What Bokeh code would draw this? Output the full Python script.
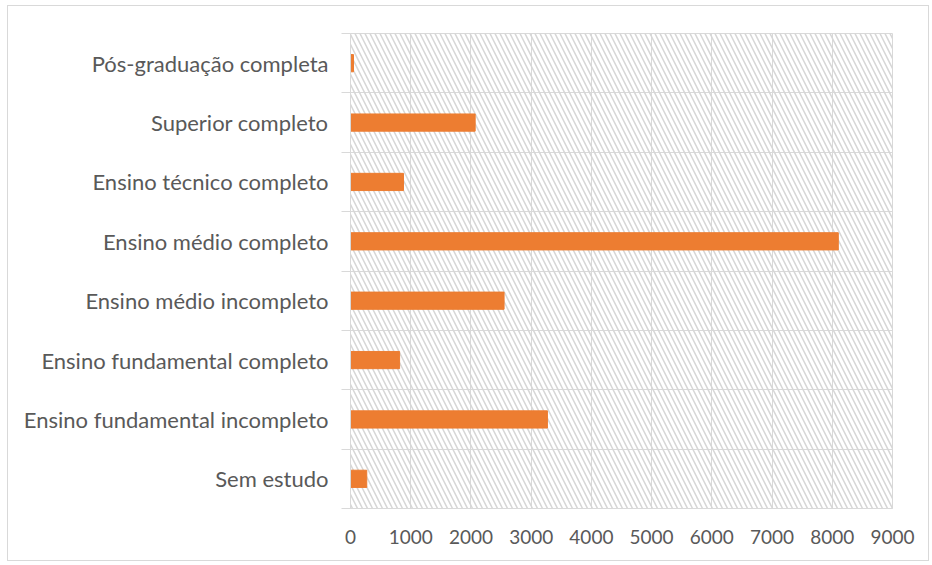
from bokeh.plotting import figure
from bokeh.models import FixedTicker, BoxAnnotation, ColumnDataSource
from bokeh.embed import file_html
from bokeh.resources import INLINE

categories = [
    "Sem estudo",
    "Ensino fundamental incompleto",
    "Ensino fundamental completo",
    "Ensino médio incompleto",
    "Ensino médio completo",
    "Ensino técnico completo",
    "Superior completo",
    "Pós-graduação completa",
]
values = [270, 3270, 815, 2550, 8100, 880, 2070, 50]
x_ticks = [0, 1000, 2000, 3000, 4000, 5000, 6000, 7000, 8000, 9000]

idx = list(range(len(categories)))
bounds = [i - 0.5 for i in idx] + [len(categories) - 0.5]

src = ColumnDataSource(dict(y=idx, v=values, cat=categories))

GRID = "#d9d9d9"
TXT = "#595959"
FONT = "Lato"

p = figure(
    width=922, height=556,
    x_range=(0, 9000), y_range=(-0.5, len(categories) - 0.5),
    output_backend="svg", toolbar_location=None,
    margin=(5, 0, 0, 7),
    min_border_left=342, min_border_right=38,
    min_border_top=27, min_border_bottom=54,
)
p.styles = {"border": "1px solid #d9d9d9"}
p.outline_line_color = GRID
p.background_fill_color = "white"
p.border_fill_color = "white"

hatch = BoxAnnotation(fill_color=None, line_color=None,
                      hatch_pattern="left_diagonal_line", hatch_color="#d6d6d6",
                      hatch_scale=10, hatch_weight=1.5, level="underlay")
p.add_layout(hatch)

p.hbar(y="y", right="v", left=0, height=0.29, source=src,
       fill_color="#ED7D31", line_color="#ED7D31")

# y axis
p.yaxis.ticker = FixedTicker(ticks=idx, minor_ticks=bounds)
p.yaxis.major_label_overrides = {i: c for i, c in zip(idx, categories)}
p.yaxis.major_tick_line_color = None
p.yaxis.major_tick_out = 0
p.yaxis.major_tick_in = 0
p.yaxis.minor_tick_line_color = GRID
p.yaxis.minor_tick_out = 9
p.yaxis.minor_tick_in = 0
p.yaxis.axis_line_color = GRID
p.yaxis.major_label_standoff = 13
p.yaxis.major_label_text_font = FONT
p.yaxis.major_label_text_font_size = "22px"
p.yaxis.major_label_text_color = TXT

# x axis
p.xaxis.ticker = FixedTicker(ticks=x_ticks)
p.xaxis.major_tick_line_color = None
p.xaxis.minor_tick_line_color = None
p.xaxis.axis_line_color = GRID
p.xaxis.major_label_standoff = 15
p.xaxis.major_label_text_font = FONT
p.xaxis.major_label_text_font_size = "19px"
p.xaxis.major_label_text_color = TXT

# grids
p.xgrid.ticker = FixedTicker(ticks=x_ticks)
p.xgrid.grid_line_color = GRID
p.ygrid.ticker = FixedTicker(ticks=bounds)
p.ygrid.grid_line_color = GRID

open("out.html", "w").write(file_html(p, INLINE))
